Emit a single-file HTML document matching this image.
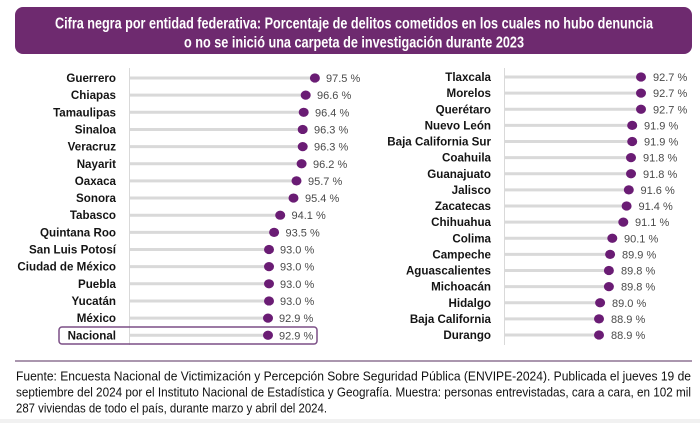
<!DOCTYPE html>
<html><head><meta charset="utf-8"><style>
html,body{margin:0;padding:0;background:#fff;}
svg{display:block;}
.c{font-family:"Liberation Sans",sans-serif;font-weight:bold;font-size:11.6px;fill:#141414;text-anchor:end;}
.v{font-family:"Liberation Sans",sans-serif;font-size:11px;fill:#4a4a4a;}
.t{font-family:"Liberation Sans",sans-serif;font-weight:bold;font-size:16px;fill:#fff;text-anchor:middle;}
.f{font-family:"Liberation Sans",sans-serif;font-size:12.5px;fill:#111;}
.g{stroke:#d9d9d9;stroke-width:3;}
.d{fill:#6a1c74;}
</style></head><body>
<svg width="700" height="423" viewBox="0 0 700 423" xmlns="http://www.w3.org/2000/svg">
<rect x="0" y="0" width="700" height="423" fill="#fff"/>
<rect x="0" y="419" width="700" height="4" fill="#f1f1f1"/>
<!-- title -->
<rect x="15" y="7" width="677" height="47" rx="8" fill="#6e2a6f"/>
<text class="t" x="354" y="28.5" textLength="598" lengthAdjust="spacingAndGlyphs">Cifra negra por entidad federativa: Porcentaje de delitos cometidos en los cuales no hubo denuncia</text>
<text class="t" x="354" y="47.5" textLength="340" lengthAdjust="spacingAndGlyphs">o no se inició una carpeta de investigación durante 2023</text>

<!-- left axis -->
<line x1="129.5" y1="68" x2="129.5" y2="345" stroke="#d9d9d9" stroke-width="1"/>
<rect x="59" y="327" width="258" height="17" rx="3" fill="none" stroke="#7b4f86" stroke-width="1.5"/>
<g>
<line class="g" x1="130" y1="78" x2="314.9" y2="78"/><ellipse class="d" cx="314.9" cy="78" rx="5" ry="4.6"/><text class="c" x="116" y="82">Guerrero</text><text class="v" x="326" y="82">97.5 %</text>
<line class="g" x1="130" y1="95.15" x2="305.7" y2="95.15"/><ellipse class="d" cx="305.7" cy="95.15" rx="5" ry="4.6"/><text class="c" x="116" y="99.15">Chiapas</text><text class="v" x="317" y="99.15">96.6 %</text>
<line class="g" x1="130" y1="112.3" x2="303.7" y2="112.3"/><ellipse class="d" cx="303.7" cy="112.3" rx="5" ry="4.6"/><text class="c" x="116" y="116.3">Tamaulipas</text><text class="v" x="315" y="116.3">96.4 %</text>
<line class="g" x1="130" y1="129.45" x2="302.7" y2="129.45"/><ellipse class="d" cx="302.7" cy="129.45" rx="5" ry="4.6"/><text class="c" x="116" y="133.45">Sinaloa</text><text class="v" x="314" y="133.45">96.3 %</text>
<line class="g" x1="130" y1="146.6" x2="302.7" y2="146.6"/><ellipse class="d" cx="302.7" cy="146.6" rx="5" ry="4.6"/><text class="c" x="116" y="150.6">Veracruz</text><text class="v" x="314" y="150.6">96.3 %</text>
<line class="g" x1="130" y1="163.75" x2="301.6" y2="163.75"/><ellipse class="d" cx="301.6" cy="163.75" rx="5" ry="4.6"/><text class="c" x="116" y="167.75">Nayarit</text><text class="v" x="313" y="167.75">96.2 %</text>
<line class="g" x1="130" y1="180.9" x2="296.5" y2="180.9"/><ellipse class="d" cx="296.5" cy="180.9" rx="5" ry="4.6"/><text class="c" x="116" y="184.9">Oaxaca</text><text class="v" x="308" y="184.9">95.7 %</text>
<line class="g" x1="130" y1="198.05" x2="293.5" y2="198.05"/><ellipse class="d" cx="293.5" cy="198.05" rx="5" ry="4.6"/><text class="c" x="116" y="202.05">Sonora</text><text class="v" x="305" y="202.05">95.4 %</text>
<line class="g" x1="130" y1="215.2" x2="280.2" y2="215.2"/><ellipse class="d" cx="280.2" cy="215.2" rx="5" ry="4.6"/><text class="c" x="116" y="219.2">Tabasco</text><text class="v" x="291.5" y="219.2">94.1 %</text>
<line class="g" x1="130" y1="232.35" x2="274.1" y2="232.35"/><ellipse class="d" cx="274.1" cy="232.35" rx="5" ry="4.6"/><text class="c" x="116" y="236.35">Quintana Roo</text><text class="v" x="285.5" y="236.35">93.5 %</text>
<line class="g" x1="130" y1="249.5" x2="269" y2="249.5"/><ellipse class="d" cx="269" cy="249.5" rx="5" ry="4.6"/><text class="c" x="116" y="253.5">San Luis Potosí</text><text class="v" x="280" y="253.5">93.0 %</text>
<line class="g" x1="130" y1="266.65" x2="269" y2="266.65"/><ellipse class="d" cx="269" cy="266.65" rx="5" ry="4.6"/><text class="c" x="116" y="270.65">Ciudad de México</text><text class="v" x="280" y="270.65">93.0 %</text>
<line class="g" x1="130" y1="283.8" x2="269" y2="283.8"/><ellipse class="d" cx="269" cy="283.8" rx="5" ry="4.6"/><text class="c" x="116" y="287.8">Puebla</text><text class="v" x="280" y="287.8">93.0 %</text>
<line class="g" x1="130" y1="300.95" x2="269" y2="300.95"/><ellipse class="d" cx="269" cy="300.95" rx="5" ry="4.6"/><text class="c" x="116" y="304.95">Yucatán</text><text class="v" x="280" y="304.95">93.0 %</text>
<line class="g" x1="130" y1="318.1" x2="268" y2="318.1"/><ellipse class="d" cx="268" cy="318.1" rx="5" ry="4.6"/><text class="c" x="116" y="322.1">México</text><text class="v" x="279" y="322.1">92.9 %</text>
<line class="g" x1="130" y1="335.25" x2="268" y2="335.25"/><ellipse class="d" cx="268" cy="335.25" rx="5" ry="4.6"/><text class="c" x="116" y="339.25">Nacional</text><text class="v" x="279" y="339.25">92.9 %</text>
</g>

<!-- right axis -->
<line x1="504.5" y1="68" x2="504.5" y2="345" stroke="#d9d9d9" stroke-width="1"/>
<g>
<line class="g" x1="505" y1="77" x2="641" y2="77"/><ellipse class="d" cx="641" cy="77" rx="5" ry="4.6"/><text class="c" x="491" y="81">Tlaxcala</text><text class="v" x="653" y="81">92.7 %</text>
<line class="g" x1="505" y1="93.1" x2="641" y2="93.1"/><ellipse class="d" cx="641" cy="93.1" rx="5" ry="4.6"/><text class="c" x="491" y="97.1">Morelos</text><text class="v" x="653" y="97.1">92.7 %</text>
<line class="g" x1="505" y1="109.25" x2="641" y2="109.25"/><ellipse class="d" cx="641" cy="109.25" rx="5" ry="4.6"/><text class="c" x="491" y="113.25">Querétaro</text><text class="v" x="653" y="113.25">92.7 %</text>
<line class="g" x1="505" y1="125.4" x2="632.2" y2="125.4"/><ellipse class="d" cx="632.2" cy="125.4" rx="5" ry="4.6"/><text class="c" x="491" y="129.4">Nuevo León</text><text class="v" x="644" y="129.4">91.9 %</text>
<line class="g" x1="505" y1="141.5" x2="632.2" y2="141.5"/><ellipse class="d" cx="632.2" cy="141.5" rx="5" ry="4.6"/><text class="c" x="491" y="145.5">Baja California Sur</text><text class="v" x="644" y="145.5">91.9 %</text>
<line class="g" x1="505" y1="157.6" x2="631" y2="157.6"/><ellipse class="d" cx="631" cy="157.6" rx="5" ry="4.6"/><text class="c" x="491" y="161.6">Coahuila</text><text class="v" x="643" y="161.6">91.8 %</text>
<line class="g" x1="505" y1="173.75" x2="631" y2="173.75"/><ellipse class="d" cx="631" cy="173.75" rx="5" ry="4.6"/><text class="c" x="491" y="177.75">Guanajuato</text><text class="v" x="643" y="177.75">91.8 %</text>
<line class="g" x1="505" y1="189.9" x2="628.8" y2="189.9"/><ellipse class="d" cx="628.8" cy="189.9" rx="5" ry="4.6"/><text class="c" x="491" y="193.9">Jalisco</text><text class="v" x="640.5" y="193.9">91.6 %</text>
<line class="g" x1="505" y1="206" x2="626.6" y2="206"/><ellipse class="d" cx="626.6" cy="206" rx="5" ry="4.6"/><text class="c" x="491" y="210">Zacatecas</text><text class="v" x="638.5" y="210">91.4 %</text>
<line class="g" x1="505" y1="222.1" x2="623.3" y2="222.1"/><ellipse class="d" cx="623.3" cy="222.1" rx="5" ry="4.6"/><text class="c" x="491" y="226.1">Chihuahua</text><text class="v" x="635" y="226.1">91.1 %</text>
<line class="g" x1="505" y1="238.25" x2="612.3" y2="238.25"/><ellipse class="d" cx="612.3" cy="238.25" rx="5" ry="4.6"/><text class="c" x="491" y="242.25">Colima</text><text class="v" x="624" y="242.25">90.1 %</text>
<line class="g" x1="505" y1="254.4" x2="610.1" y2="254.4"/><ellipse class="d" cx="610.1" cy="254.4" rx="5" ry="4.6"/><text class="c" x="491" y="258.4">Campeche</text><text class="v" x="622" y="258.4">89.9 %</text>
<line class="g" x1="505" y1="270.5" x2="608.9" y2="270.5"/><ellipse class="d" cx="608.9" cy="270.5" rx="5" ry="4.6"/><text class="c" x="491" y="274.5">Aguascalientes</text><text class="v" x="621" y="274.5">89.8 %</text>
<line class="g" x1="505" y1="286.6" x2="608.9" y2="286.6"/><ellipse class="d" cx="608.9" cy="286.6" rx="5" ry="4.6"/><text class="c" x="491" y="290.6">Michoacán</text><text class="v" x="621" y="290.6">89.8 %</text>
<line class="g" x1="505" y1="302.75" x2="600.1" y2="302.75"/><ellipse class="d" cx="600.1" cy="302.75" rx="5" ry="4.6"/><text class="c" x="491" y="306.75">Hidalgo</text><text class="v" x="612" y="306.75">89.0 %</text>
<line class="g" x1="505" y1="318.9" x2="599" y2="318.9"/><ellipse class="d" cx="599" cy="318.9" rx="5" ry="4.6"/><text class="c" x="491" y="322.9">Baja California</text><text class="v" x="611" y="322.9">88.9 %</text>
<line class="g" x1="505" y1="335" x2="599" y2="335"/><ellipse class="d" cx="599" cy="335" rx="5" ry="4.6"/><text class="c" x="491" y="339">Durango</text><text class="v" x="611" y="339">88.9 %</text>
</g>

<!-- footer -->
<line x1="15" y1="361" x2="692" y2="361" stroke="#8d7393" stroke-width="1.5"/>
<text class="f" x="16" y="380.5" textLength="675" lengthAdjust="spacingAndGlyphs">Fuente: Encuesta Nacional de Victimización y Percepción Sobre Seguridad Pública (ENVIPE-2024). Publicada el jueves 19 de</text>
<text class="f" x="16" y="396.5" textLength="675" lengthAdjust="spacingAndGlyphs">septiembre del 2024 por el Instituto Nacional de Estadística y Geografía. Muestra: personas entrevistadas, cara a cara, en 102 mil</text>
<text class="f" x="16" y="412.5" textLength="311" lengthAdjust="spacingAndGlyphs">287 viviendas de todo el país, durante marzo y abril del 2024.</text>
</svg>
</body></html>
